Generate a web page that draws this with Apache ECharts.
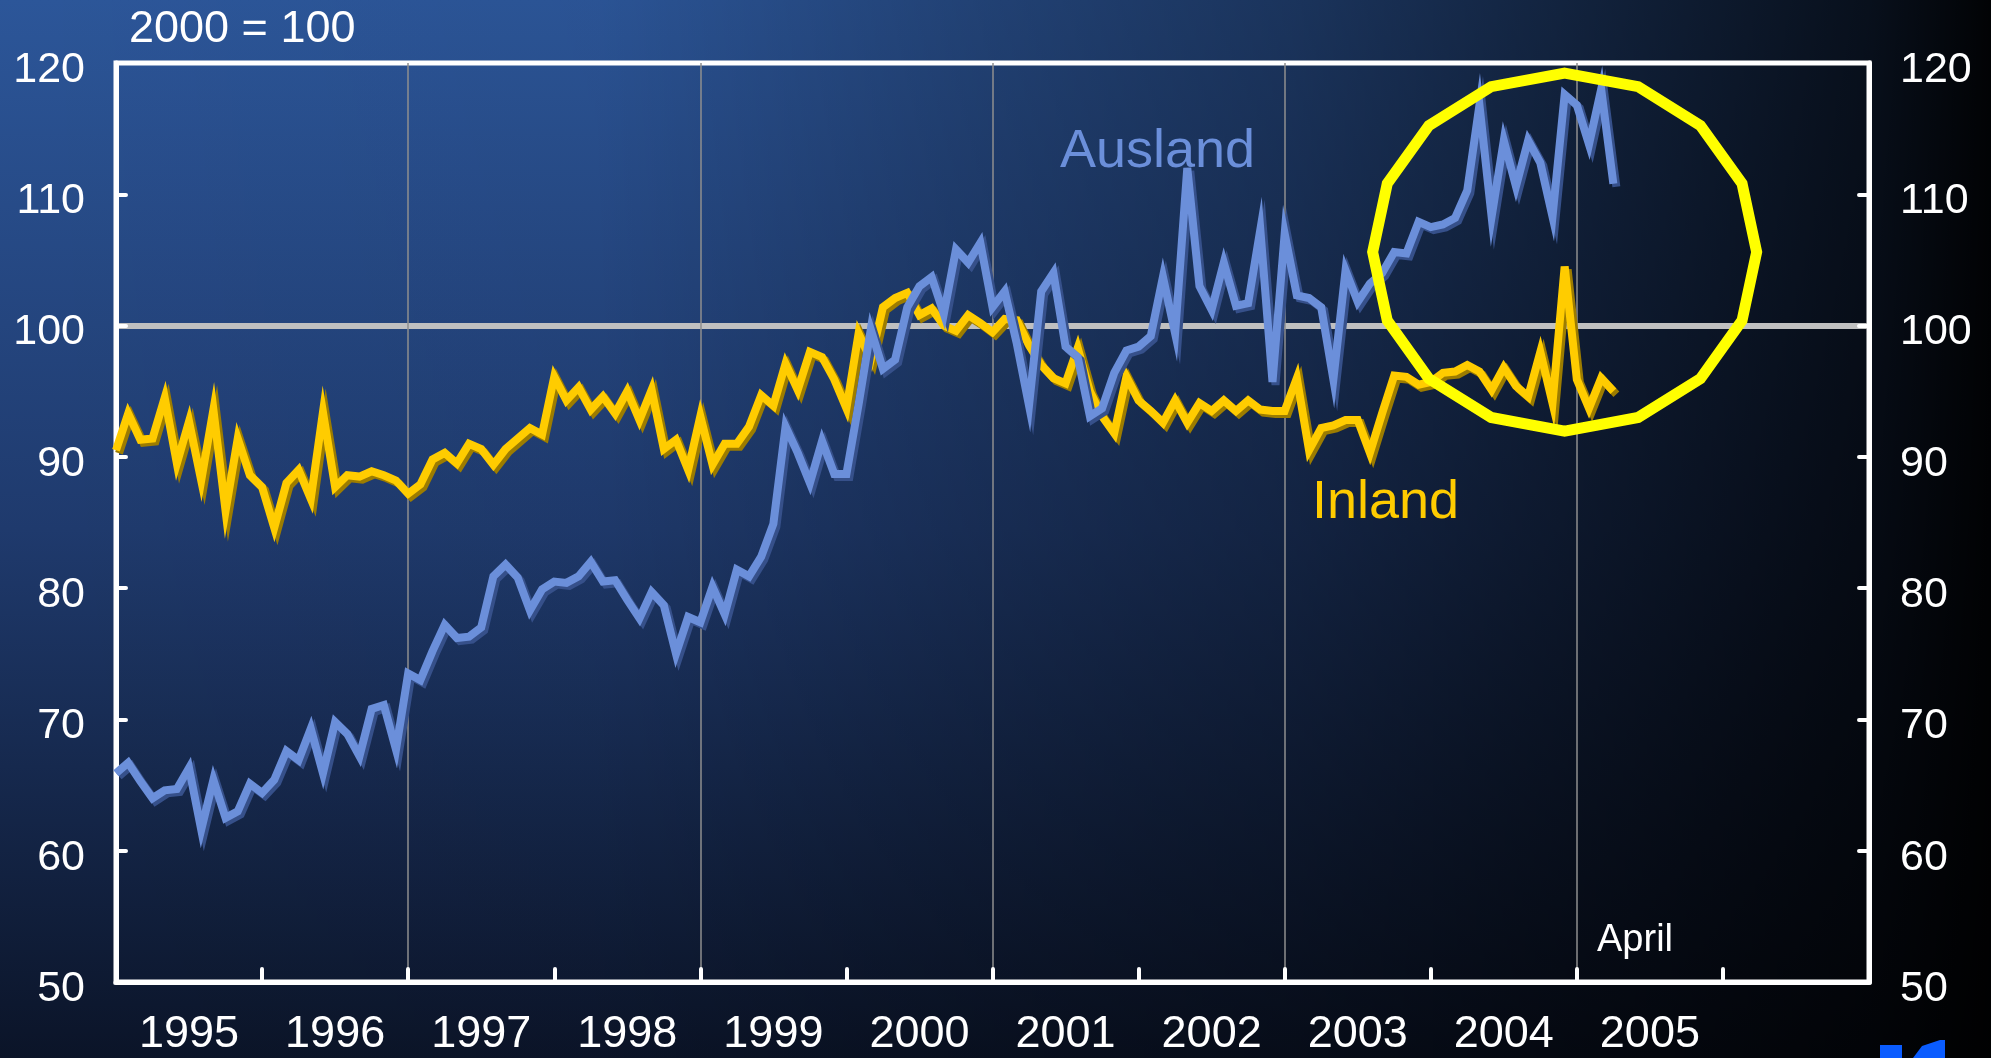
<!DOCTYPE html>
<html>
<head>
<meta charset="utf-8">
<script src="https://cdn.jsdelivr.net/npm/echarts@6/dist/echarts.min.js"></script>
<style>
html,body{margin:0;padding:0;background:#000;}
#main{width:1991px;height:1058px;}
</style>
</head>
<body>
<div id="main"></div>
<script>
// ---- data (monthly, Jan 1995 .. Apr 2005), index 2000 = 100 ----
const yearLabels = ['1995','1996','1997','1998','1999','2000','2001','2002','2003','2004','2005',''];

const inland = [
  90.5, 93.3, 91.3, 91.4, 94.5, 89.5, 92.7, 88.2, 93.6, 85.9, 91.4, 88.6,
  87.7, 84.6, 88.0, 89.0, 86.8, 93.4, 87.7, 88.6, 88.5, 88.9, 88.6, 88.2,
  87.2, 87.9, 89.8, 90.3, 89.5, 91.0, 90.6, 89.4, 90.6, 91.4, 92.2, 91.7,
  96.1, 94.3, 95.3, 93.6, 94.6, 93.3, 95.0, 92.8, 95.1, 90.6, 91.3, 89.0,
  93.1, 89.4, 91.0, 91.0, 92.3, 94.7, 93.9, 97.1, 95.1, 98.0, 97.6, 95.9,
  93.7, 99.4, 97.4, 101.4, 102.1, 102.5, 100.8, 101.3, 100.0, 99.6, 100.8, 100.2,
  99.5, 100.5, 100.4, 98.5, 97.0, 96.0, 95.6, 98.3, 95.0, 93.1, 91.8, 96.1,
  94.3, 93.5, 92.6, 94.3, 92.6, 94.1, 93.5, 94.3, 93.5, 94.3, 93.6, 93.5,
  93.5, 96.0, 90.5, 92.2, 92.4, 92.8, 92.8, 90.3, 93.3, 96.2, 96.1, 95.5,
  95.7, 96.4, 96.5, 97.0, 96.5, 95.1, 96.8, 95.4, 94.6, 98.0, 94.1, 104.5,
  95.9, 93.7, 96.0, 95.0
];
const ausland = [
  65.9, 66.7, 65.3, 64.0, 64.6, 64.7, 66.3, 61.6, 65.4, 62.5, 63.0, 65.1,
  64.4, 65.4, 67.6, 66.9, 69.3, 65.9, 69.8, 68.9, 67.2, 70.8, 71.1, 67.7,
  73.5, 73.0, 75.2, 77.2, 76.2, 76.3, 77.0, 80.9, 81.8, 80.8, 78.3, 79.9,
  80.5, 80.4, 80.9, 82.0, 80.5, 80.6, 79.1, 77.7, 79.7, 78.7, 75.0, 77.8,
  77.4, 80.1, 78.0, 81.4, 80.9, 82.4, 84.9, 92.3, 90.3, 88.0, 91.2, 88.7,
  88.7, 94.0, 99.7, 96.7, 97.4, 101.4, 103.0, 103.7, 100.9, 105.8, 104.8, 106.3,
  101.4, 102.6, 98.6, 93.9, 102.6, 104.0, 98.4, 97.6, 93.1, 93.7, 96.4, 98.1,
  98.4, 99.2, 103.7, 99.4, 112.0, 103.0, 101.2, 104.8, 101.5, 101.7, 107.3, 95.7,
  107.0, 102.3, 102.1, 101.4, 95.9, 104.2, 101.8, 103.2, 104.0, 105.6, 105.5, 107.9,
  107.5, 107.7, 108.2, 110.3, 116.8, 108.3, 114.1, 110.6, 114.1, 112.4, 108.3, 117.6,
  116.8, 113.8, 118.0, 110.8
];

// month categories Jan 1995 .. Jan 2007 (axis spans 12 years)
const months = [];
for (let y = 1995; y <= 2006; y++) {
  for (let m = 1; m <= 12; m++) months.push(y + '-' + String(m).padStart(2, '0'));
}
months.push('2007-01');

const highlight = { month: '2004-12', value: 105.6, rx: 192, ry: 179 };

const FONT = '"Liberation Sans", Arial, Helvetica, sans-serif';
const chart = echarts.init(document.getElementById('main'), null, { renderer: 'canvas' });

const yAxisCommon = {
  type: 'value', min: 50, max: 120, interval: 10,
  axisLine: { show: true, lineStyle: { color: '#ffffff', width: 5 } },
  axisTick: { show: true, inside: true, length: 10, lineStyle: { color: '#ffffff', width: 4, cap: 'round' } },
  axisLabel: { color: '#ffffff', fontSize: 43, fontFamily: FONT, margin: 31, verticalAlign: 'top', lineHeight: 14 },
  splitLine: { show: false }
};

const option = {
  animation: false,
  backgroundColor: new echarts.graphic.LinearGradient(0, 0, 0, 1, [
    { offset: 0, color: '#2c5699' },
    { offset: 0.5, color: '#1f3a6d' },
    { offset: 1, color: '#0b1428' }
  ]),
  grid: { left: 116, right: 122, top: 63, bottom: 76, show: true, borderColor: '#ffffff', borderWidth: 5, backgroundColor: 'transparent' },
  xAxis: [
    {
      type: 'category', data: yearLabels, boundaryGap: true, position: 'bottom',
      axisLine: { show: true, lineStyle: { color: '#ffffff', width: 5 } },
      axisTick: { show: true, inside: true, length: 13, interval: 0, lineStyle: { color: '#ffffff', width: 4, cap: 'round' } },
      axisLabel: { color: '#ffffff', fontSize: 45, fontFamily: FONT, margin: 30, interval: 0 },
      splitLine: { show: false }
    },
    {
      type: 'category', data: months, boundaryGap: false, position: 'top',
      axisLine: { show: false }, axisTick: { show: false }, axisLabel: { show: false },
      splitLine: {
        show: true,
        interval: function (idx) { return idx > 0 && idx < months.length - 1 && idx % 24 === 0; },
        lineStyle: { color: '#8f8f8f', width: 1.5 }
      }
    }
  ],
  yAxis: [
    Object.assign({}, yAxisCommon, { position: 'left' }),
    Object.assign({}, yAxisCommon, { position: 'right' }),
    {
      type: 'value', min: 50, max: 120, interval: 50, position: 'left',
      axisLine: { show: false }, axisTick: { show: false }, axisLabel: { show: false },
      splitLine: { show: true, lineStyle: { color: ['rgba(0,0,0,0)', '#c0c0c0', 'rgba(0,0,0,0)'], width: 6 } }
    }
  ],
  series: [
    {
      name: 'Inland', type: 'line', xAxisIndex: 1, yAxisIndex: 0, data: inland,
      symbol: 'none', smooth: false, z: 3,
      lineStyle: { color: '#ffcc00', width: 8, join: 'miter', shadowColor: '#9c7c00', shadowOffsetX: 3, shadowOffsetY: 3, shadowBlur: 0 }
    },
    {
      name: 'Ausland', type: 'line', xAxisIndex: 1, yAxisIndex: 0, data: ausland,
      symbol: 'none', smooth: false, z: 4,
      lineStyle: { color: '#6b8fda', width: 8, join: 'miter', shadowColor: '#36508a', shadowOffsetX: 3, shadowOffsetY: 3, shadowBlur: 0 }
    }
  ],
  graphic: [
    {
      id: 'darken', type: 'rect', z: -10, silent: true,
      shape: { x: 0, y: 0, width: 1991, height: 1058 },
      style: {
        fill: new echarts.graphic.LinearGradient(0, 0, 1, 0, [
          { offset: 0, color: 'rgba(0,0,0,0)' },
          { offset: 0.3, color: 'rgba(0,0,0,0.03)' },
          { offset: 0.5, color: 'rgba(0,0,0,0.25)' },
          { offset: 0.65, color: 'rgba(0,0,0,0.4)' },
          { offset: 0.83, color: 'rgba(0,0,0,0.66)' },
          { offset: 0.94, color: 'rgba(0,0,0,0.82)' },
          { offset: 1, color: 'rgba(0,0,0,0.97)' }
        ])
      }
    },
    {
      id: 'unit', type: 'text', left: 129, top: 7, z: 50,
      style: { text: '2000 = 100', fill: '#ffffff', fontSize: 45, fontFamily: FONT }
    },
    {
      id: 'lblAus', type: 'text', left: 1060, top: 125, z: 50,
      style: { text: 'Ausland', fill: '#6b8fda', fontSize: 54, fontFamily: FONT,
        textShadowColor: '#000000', textShadowOffsetX: 3, textShadowOffsetY: 3, textShadowBlur: 0 }
    },
    {
      id: 'lblIn', type: 'text', left: 1312, top: 476, z: 50,
      style: { text: 'Inland', fill: '#ffcc00', fontSize: 54, fontFamily: FONT,
        textShadowColor: '#000000', textShadowOffsetX: 3, textShadowOffsetY: 3, textShadowBlur: 0 }
    },
    {
      id: 'lblApril', type: 'text', left: 1597, top: 922, z: 50,
      style: { text: 'April', fill: '#ffffff', fontSize: 38, fontFamily: FONT }
    },
    {
      id: 'logo1', type: 'rect', z: 50, shape: { x: 1880, y: 1045, width: 22, height: 13 },
      style: { fill: '#0a5cff' }
    },
    {
      id: 'logo2', type: 'polygon', z: 50,
      shape: { points: [[1913, 1058], [1922, 1046], [1940, 1040], [1945, 1040], [1945, 1058]] },
      style: { fill: '#0a5cff' }
    }
  ]
};

chart.setOption(option);

// highlight ring (16-sided) centred on a data location
const c = chart.convertToPixel({ xAxisIndex: 1, yAxisIndex: 0 }, [highlight.month, highlight.value]);
const pts = [];
for (let k = 0; k < 16; k++) {
  const a = k * Math.PI / 8;
  pts.push([c[0] + highlight.rx * Math.sin(a), c[1] - highlight.ry * Math.cos(a)]);
}
chart.setOption({
  graphic: [{
    id: 'ring', type: 'polygon', z: 40, silent: true,
    shape: { points: pts },
    style: { fill: 'none', stroke: '#ffff00', lineWidth: 11, lineJoin: 'miter' }
  }]
});
</script>
</body>
</html>
